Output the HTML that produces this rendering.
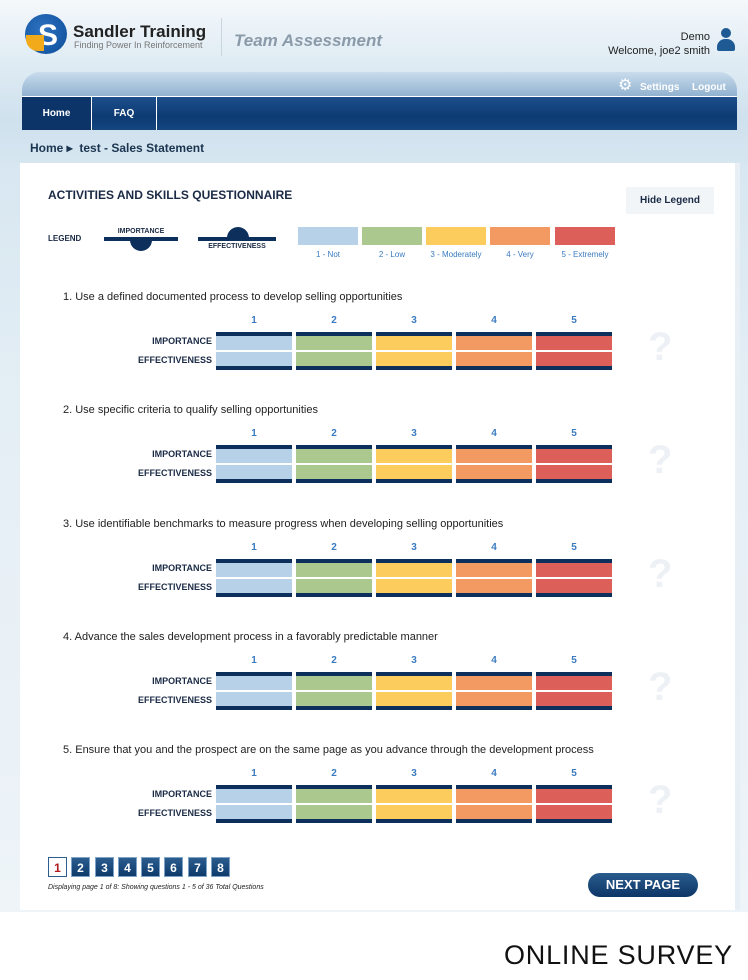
<!DOCTYPE html>
<html><head><style>
*{margin:0;padding:0;box-sizing:border-box}
body{width:748px;height:980px;position:relative;background:#fff;font-family:"Liberation Sans",Arial,sans-serif;overflow:hidden;font-stretch:condensed}
.a{position:absolute}
.hdr{left:0;top:0;width:748px;height:912px;background:linear-gradient(180deg,#f4f8fb 0,#e0ecf4 60px,#cfe1ee 120px,#d8e7f1 170px,#e4eef5 400px,#eef4f8 912px)}
.nav{left:22px;top:96px;width:715px;height:34px;background:linear-gradient(180deg,#1d4f8c,#0d3a72 60%,#15467f);border-top:1px solid #fff}
.topbar{left:22px;top:72px;width:715px;height:25px;background:linear-gradient(180deg,#c9dcec,#8fb0cf);border-radius:18px 18px 0 0}
.panel{left:20px;top:163px;width:717px;height:747px;background:#fff}
.q{font-size:11px;color:#222}
.n{font-size:10px;color:#3a7bc0;font-weight:bold;width:76px;text-align:center}
.lab{font-size:9px;font-weight:bold;color:#1a2a45;text-align:right;width:100px}
.c{height:38px;width:76px}
.pg{width:19px;height:20px;background:linear-gradient(#2c5d8f,#0d3a6a);color:#fff;font-size:12px;font-weight:bold;text-align:center;line-height:21px;border:1px solid #7fa3c6}
</style></head><body>
<div class="a hdr"></div>
<div class="a" style="left:25px;top:14px;width:42px;height:40px;border-radius:50%;background:radial-gradient(circle at 40% 40%,#2e73c0,#0b4c99)"></div>
<div class="a" style="left:38px;top:19px;color:#fff;font-size:30px;font-weight:bold">S</div>
<div class="a" style="left:26px;top:35px;width:18px;height:16px;background:#f2a91a;border-radius:0 0 0 12px"></div>
<div class="a" style="left:73px;top:22px;font-size:17px;font-weight:bold;color:#222">Sandler Training</div>
<div class="a" style="left:74px;top:40px;font-size:9px;color:#777">Finding Power In Reinforcement</div>
<div class="a" style="left:221px;top:18px;width:1px;height:38px;background:#c9d6df"></div>
<div class="a" style="left:234px;top:31px;font-size:17px;font-weight:bold;font-style:italic;color:#8a9aa8">Team Assessment</div>
<div class="a" style="left:600px;top:30px;width:110px;text-align:right;font-size:11px;color:#222;line-height:14px">Demo<br>Welcome, joe2 smith</div>
<div class="a" style="left:721px;top:28px;width:10px;height:10px;border-radius:50%;background:#1e5a94"></div>
<div class="a" style="left:717px;top:39px;width:18px;height:12px;border-radius:8px 8px 2px 2px;background:#1e5a94"></div>
<div class="a topbar"></div>
<div class="a" style="left:618px;top:75px;font-size:16px;color:#fff">⚙</div>
<div class="a" style="left:640px;top:82px;font-size:10px;color:#fff;font-weight:bold">Settings</div>
<div class="a" style="left:692px;top:82px;font-size:10px;color:#fff;font-weight:bold">Logout</div>
<div class="a nav"></div>
<div class="a" style="left:22px;top:97px;width:70px;height:33px;background:#0c3469;border-right:1px solid #fff;color:#fff;font-size:10px;font-weight:bold;text-align:center;line-height:33px">Home</div>
<div class="a" style="left:92px;top:97px;width:65px;height:33px;border-right:1px solid #fff;color:#fff;font-size:10px;font-weight:bold;text-align:center;line-height:33px">FAQ</div>
<div class="a" style="left:30px;top:141px;font-size:12px;font-weight:bold;color:#1b3550">Home ▸ &nbsp;test - Sales Statement</div>
<div class="a panel"></div>
<div class="a" style="left:735px;top:163px;width:5px;height:747px;background:#e8f0f5"></div>
<div class="a" style="left:48px;top:188px;font-size:12px;font-weight:bold;color:#1a2a45">ACTIVITIES AND SKILLS QUESTIONNAIRE</div>
<div class="a" style="left:626px;top:187px;width:88px;height:27px;background:#f1f5f8;font-size:10px;font-weight:bold;color:#1a2a45;text-align:center;line-height:27px">Hide Legend</div>
<div class="a" style="left:48px;top:234px;font-size:8px;font-weight:bold;color:#1a2a45">LEGEND</div>
<div class="a" style="left:104px;top:228px;font-size:7px;font-weight:bold;color:#1a2a45;width:74px;text-align:center">IMPORTANCE</div>
<div class="a" style="left:104px;top:237px;width:74px;height:4px;background:#0d2f5c"></div>
<div class="a" style="left:130px;top:237px;width:22px;height:14px;border-radius:0 0 11px 11px;background:#0d2f5c"></div>
<div class="a" style="left:198px;top:237px;width:78px;height:4px;background:#0d2f5c"></div>
<div class="a" style="left:227px;top:227px;width:22px;height:11px;border-radius:11px 11px 0 0;background:#0d2f5c"></div>
<div class="a" style="left:198px;top:243px;font-size:7px;font-weight:bold;color:#1a2a45;width:78px;text-align:center">EFFECTIVENESS</div>
<div class="a" style="left:298px;top:227px;width:60px;height:18px;background:#b7d1e8"></div>
<div class="a" style="left:362px;top:227px;width:60px;height:18px;background:#abc98f"></div>
<div class="a" style="left:426px;top:227px;width:60px;height:18px;background:#fccd5c"></div>
<div class="a" style="left:490px;top:227px;width:60px;height:18px;background:#f29a62"></div>
<div class="a" style="left:555px;top:227px;width:60px;height:18px;background:#dc5f5a"></div>
<div class="a" style="top:250px;left:298px;width:60px;text-align:center;font-size:8px;color:#3a7bc0">1 - Not</div>
<div class="a" style="top:250px;left:362px;width:60px;text-align:center;font-size:8px;color:#3a7bc0">2 - Low</div>
<div class="a" style="top:250px;left:424px;width:64px;text-align:center;font-size:8px;color:#3a7bc0">3 - Moderately</div>
<div class="a" style="top:250px;left:490px;width:60px;text-align:center;font-size:8px;color:#3a7bc0">4 - Very</div>
<div class="a" style="top:250px;left:553px;width:64px;text-align:center;font-size:8px;color:#3a7bc0">5 - Extremely</div>
<div id="qs"></div>
<div class="a pg" style="left:48px;top:857px;background:#fff;color:#b01c1c;border:1px solid #2c5d8f">1</div>
<div class="a pg" style="left:71px;top:857px">2</div>
<div class="a pg" style="left:95px;top:857px">3</div>
<div class="a pg" style="left:118px;top:857px">4</div>
<div class="a pg" style="left:141px;top:857px">5</div>
<div class="a pg" style="left:164px;top:857px">6</div>
<div class="a pg" style="left:188px;top:857px">7</div>
<div class="a pg" style="left:211px;top:857px">8</div>
<div class="a" style="left:48px;top:884px;font-size:7px;font-style:italic;color:#222">Displaying page 1 of 8: Showing questions 1 - 5 of 36 Total Questions</div>
<div class="a" style="left:588px;top:873px;width:110px;height:24px;border-radius:12px;background:linear-gradient(#2a5c8e,#0c3566);color:#fff;font-size:13px;font-weight:bold;text-align:center;line-height:24px">NEXT PAGE</div>
<div class="a" style="left:504px;top:940px;font-size:27px;color:#111;letter-spacing:0.8px">ONLINE SURVEY</div>
<script>
var qs=["1. Use a defined documented process to develop selling opportunities","2. Use specific criteria to qualify selling opportunities","3. Use identifiable benchmarks to measure progress when developing selling opportunities","4. Advance the sales development process in a favorably predictable manner","5. Ensure that you and the prospect are on the same page as you advance through the development process"];
var cols=["#b7d1e8","#abc98f","#fccd5c","#f29a62","#dc5f5a"],xs=[216,296,376,456,536],h="";
qs.forEach(function(q,i){var y=291+i*113.3;
h+='<div class="a q" style="left:63px;top:'+y+'px">'+q+'</div>';
for(var k=0;k<5;k++){
h+='<div class="a n" style="left:'+xs[k]+'px;top:'+(y+24)+'px">'+(k+1)+'</div>';
h+='<div class="a c" style="left:'+xs[k]+'px;top:'+(y+41)+'px;background:'+cols[k]+';border-top:4px solid #0d2f5c;border-bottom:4px solid #0d2f5c"><div style="margin-top:14px;height:2px;background:#fff"></div></div>';}
h+='<div class="a lab" style="left:112px;top:'+(y+45)+'px">IMPORTANCE</div>';
h+='<div class="a lab" style="left:112px;top:'+(y+64)+'px">EFFECTIVENESS</div>';
h+='<div class="a" style="left:648px;top:'+(y+34)+'px;font-size:40px;font-weight:bold;color:#edf1f5">?</div>';});
document.getElementById("qs").innerHTML=h;
</script>
</body></html>
